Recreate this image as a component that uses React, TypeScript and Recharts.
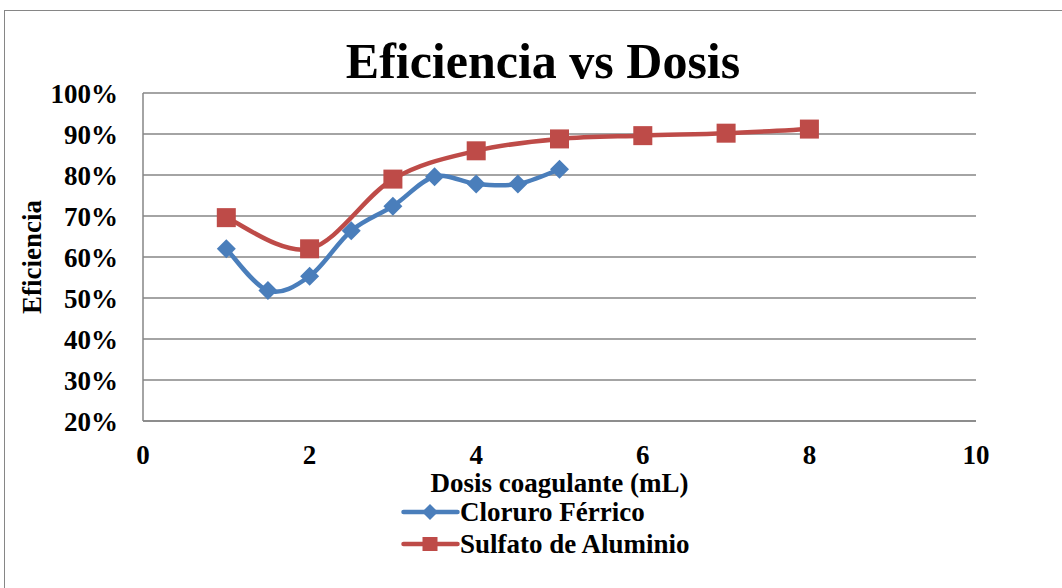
import React from "react";
import { LineChart, Line, XAxis, YAxis, CartesianGrid } from "recharts";

const chartTitle = "Eficiencia vs Dosis";
const xAxisTitle = "Dosis coagulante (mL)";
const yAxisTitle = "Eficiencia";

const seriesNames = ["Cloruro Férrico", "Sulfato de Aluminio"];
const seriesColors = ["#4A7EBB", "#BE4B48"];

const dosisCloruro = [1, 1.5, 2, 2.5, 3, 3.5, 4, 4.5, 5];
const eficienciaCloruro = [62, 51.8, 55.3, 66.4, 72.4, 79.6, 77.8, 77.8, 81.4];

const dosisSulfato = [1, 2, 3, 4, 5, 6, 7, 8];
const eficienciaSulfato = [69.6, 62, 79, 85.9, 88.8, 89.6, 90.2, 91.2];

const xTicks = [0, 2, 4, 6, 8, 10];
const yTicks = [20, 30, 40, 50, 60, 70, 80, 90, 100];

const dataCloruro = dosisCloruro.map((x, i) => ({ x, y: eficienciaCloruro[i] }));
const dataSulfato = dosisSulfato.map((x, i) => ({ x, y: eficienciaSulfato[i] }));

const FONT = "'Liberation Serif', 'Times New Roman', serif";
const GRID = "#868686";

// Excel-like smoothed line (Catmull-Rom with 1/6 control points)
function excelCurve(context: any) {
  let pts: number[][] = [];
  return {
    areaStart() {},
    areaEnd() {},
    lineStart() {
      pts = [];
    },
    point(x: number, y: number) {
      pts.push([+x, +y]);
    },
    lineEnd() {
      const n = pts.length;
      if (!n) return;
      context.moveTo(pts[0][0], pts[0][1]);
      for (let i = 0; i < n - 1; i++) {
        const p0 = pts[Math.max(i - 1, 0)];
        const p1 = pts[i];
        const p2 = pts[i + 1];
        const p3 = pts[Math.min(i + 2, n - 1)];
        const c1x = p1[0] + (p2[0] - p0[0]) / 6;
        const c1y = p1[1] + (p2[1] - p0[1]) / 6;
        const c2x = p2[0] - (p3[0] - p1[0]) / 6;
        const c2y = p2[1] - (p3[1] - p1[1]) / 6;
        context.bezierCurveTo(c1x, c1y, c2x, c2y, p2[0], p2[1]);
      }
    },
  };
}

const Diamond = (props: any) => {
  const { cx, cy, index } = props;
  if (cx == null || cy == null) return null;
  const r = 9.5;
  return (
    <path
      key={`d-${index}`}
      d={`M${cx},${cy - r} L${cx + r},${cy} L${cx},${cy + r} L${cx - r},${cy} Z`}
      fill={seriesColors[0]}
      stroke="none"
    />
  );
};

const Square = (props: any) => {
  const { cx, cy, index } = props;
  if (cx == null || cy == null) return null;
  const s = 19;
  return (
    <rect
      key={`s-${index}`}
      x={cx - s / 2}
      y={cy - s / 2}
      width={s}
      height={s}
      fill={seriesColors[1]}
      stroke="none"
    />
  );
};

const YLabel = (props: any) => {
  const vb = props.viewBox || {};
  const cx = (vb.x || 0) + 32;
  const cy = (vb.y || 0) + (vb.height || 0) / 2;
  return (
    <text
      x={cx}
      y={cy}
      transform={`rotate(-90, ${cx}, ${cy})`}
      textAnchor="middle"
      dominantBaseline="central"
      fontFamily={FONT}
      fontWeight="bold"
      fontSize={27}
      fill="#000"
    >
      {yAxisTitle}
    </text>
  );
};

const LegendIcon = ({ idx }: { idx: number }) => (
  <svg width={59} height={24} style={{ display: "block" }}>
    <line x1={2.5} y1={12} x2={56.5} y2={12} stroke={seriesColors[idx]} strokeWidth={4.5} strokeLinecap="round" />
    {idx === 0 ? (
      <path d="M29,4 L37,12 L29,20 L21,12 Z" fill={seriesColors[0]} />
    ) : (
      <rect x={21.5} y={5} width={15} height={14} fill={seriesColors[1]} />
    )}
  </svg>
);

export default function App() {
  return (
    <div
      style={{
        position: "absolute",
        left: 0,
        top: 0,
        width: 1062,
        height: 588,
        overflow: "hidden",
        background: "#fff",
      }}
    >
      <div
        style={{
          position: "absolute",
          left: 4,
          top: 10,
          width: 1100,
          height: 640,
          border: `1.5px solid ${GRID}`,
          boxSizing: "border-box",
        }}
      />
      <div
        style={{
          position: "absolute",
          left: 0,
          top: 36,
          width: 1086,
          textAlign: "center",
          fontFamily: FONT,
          fontWeight: "bold",
          fontSize: 50,
          lineHeight: "50px",
          color: "#000",
        }}
      >
        {chartTitle}
      </div>
      <div style={{ position: "absolute", left: 0, top: 0 }}>
        <LineChart
          width={1062}
          height={588}
          margin={{ top: 93, right: 86, left: 0, bottom: 116 }}
        >
          <CartesianGrid vertical={false} stroke={GRID} strokeWidth={1.5} />
          <XAxis
            type="number"
            dataKey="x"
            domain={[0, 10]}
            ticks={xTicks}
            allowDuplicatedCategory={false}
            height={51}
            tickSize={0}
            tickMargin={24}
            axisLine={{ stroke: GRID, strokeWidth: 1.5 }}
            tickLine={false}
            tick={{ fontFamily: FONT, fontWeight: "bold", fontSize: 27, fill: "#000" }}
            label={{
              value: xAxisTitle,
              position: "bottom",
              offset: 1,
              fontFamily: FONT,
              fontWeight: "bold",
              fontSize: 27,
              fill: "#000",
            }}
          />
          <YAxis
            type="number"
            dataKey="y"
            domain={[20, 100]}
            ticks={yTicks}
            width={143}
            tickSize={0}
            tickMargin={25}
            axisLine={{ stroke: GRID, strokeWidth: 1.5 }}
            tickLine={false}
            tickFormatter={(v: number) => `${v}%`}
            tick={{ fontFamily: FONT, fontWeight: "bold", fontSize: 27, fill: "#000" }}
            label={<YLabel />}
          />
          <Line
            data={dataCloruro}
            dataKey="y"
            name={seriesNames[0]}
            type={excelCurve as any}
            stroke={seriesColors[0]}
            strokeWidth={4.5}
            dot={<Diamond />}
            activeDot={false}
            isAnimationActive={false}
          />
          <Line
            data={dataSulfato}
            dataKey="y"
            name={seriesNames[1]}
            type={excelCurve as any}
            stroke={seriesColors[1]}
            strokeWidth={4.5}
            dot={<Square />}
            activeDot={false}
            isAnimationActive={false}
          />
        </LineChart>
      </div>
      <div style={{ position: "absolute", left: 401, top: 496 }}>
        {seriesNames.map((name, i) => (
          <div
            key={name}
            style={{ display: "flex", alignItems: "center", height: 32 }}
          >
            <LegendIcon idx={i} />
            <span
              style={{
                fontFamily: FONT,
                fontWeight: "bold",
                fontSize: 27,
                color: "#000",
                lineHeight: "22px",
                display: "inline-block",
                marginLeft: 0,
              }}
            >
              {name}
            </span>
          </div>
        ))}
      </div>
    </div>
  );
}
